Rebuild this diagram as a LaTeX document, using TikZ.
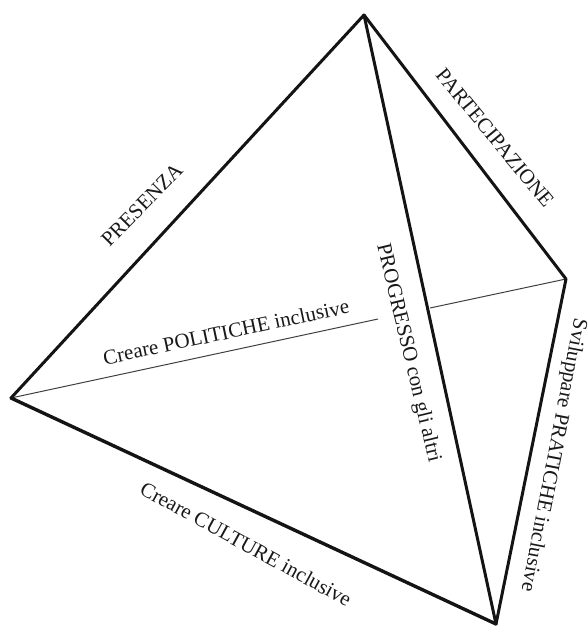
\documentclass[tikz,border=0pt]{standalone}
\usepackage{fontspec}
\setmainfont{Liberation Serif}
\tikzset{edge/.style={line width=3pt,color=black!92,line cap=round,line join=round},thinedge/.style={line width=1pt,color=black!75},lab/.style={font=\fontsize{21}{24}\selectfont,inner sep=0pt,text=black!90}}
\begin{document}
\begin{tikzpicture}[x=1pt,y=-1pt]
\useasboundingbox (0,0) rectangle (587,626);
\coordinate (A) at (364,15);
\coordinate (B) at (566,279);
\coordinate (C) at (496,624);
\coordinate (D) at (11,398);
\coordinate (G1) at (378,319);
\coordinate (G2) at (430,308);
\draw[thinedge] (D) -- (G1);
\draw[thinedge] (G2) -- (B);
\draw[edge] (D) -- (A);
\draw[edge] (A) -- (B);
\draw[edge] (A) -- (C);
\draw[edge] (B) -- (C);
\draw[edge,line width=3.4pt] (D) -- (C);
\node[lab,rotate=45.5] (n1) at (142,205) {PRESENZA};
\node[lab,rotate=-50.5] (n2) at (495,138) {PARTECIPAZIONE};
\node[lab,rotate=12] (n3) at (226,332) {Creare POLITICHE inclusive};
\node[lab,rotate=-76.5] (n4) at (408,353) {PROGRESSO con gli altri};
\node[lab,rotate=-101] (n5) at (553,455) {Sviluppare PRATICHE inclusive};
\node[lab,rotate=-28.7] (n6) at (246,544) {Creare CULTURE inclusive};
\end{tikzpicture}
\end{document}
